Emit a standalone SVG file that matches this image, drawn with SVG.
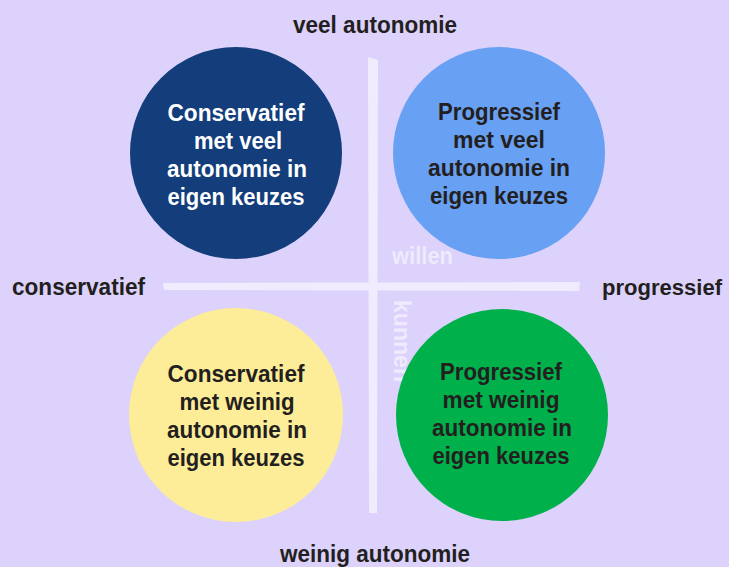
<svg xmlns="http://www.w3.org/2000/svg" width="729" height="567" viewBox="0 0 729 567">
<style>
.t{font-family:"Liberation Sans",Arial,sans-serif;font-weight:bold;font-size:24.5px;fill:#231f20;text-anchor:middle}
.w{fill:#ffffff}
.ax{font-family:"Liberation Sans",Arial,sans-serif;font-weight:bold;font-size:24px;fill:#231f20}
.lt{font-family:"Liberation Sans",Arial,sans-serif;font-weight:bold;font-size:23px;fill:#efeafd}
.ln{fill:#f0ecfd}
</style>
<rect width="729" height="567" fill="#dcd2fb"/>
<g id="axes">
<path class="ln" d="M368,57 L378,60 L377,513 L369,513 Z"/>
<path class="ln" d="M163,283 L580,282 L579,291 L164,290 Z"/>
</g>
<g id="labels">
<text class="ax" x="293" y="33" textLength="164" lengthAdjust="spacingAndGlyphs">veel autonomie</text>
<text class="ax" x="280" y="562" textLength="190" lengthAdjust="spacingAndGlyphs">weinig autonomie</text>
<text class="ax" x="12" y="295" textLength="133" lengthAdjust="spacingAndGlyphs">conservatief</text>
<text class="ax" x="602" y="295" font-size="22" style="font-size:22px" textLength="120" lengthAdjust="spacingAndGlyphs">progressief</text>
<text class="lt" x="392" y="264" textLength="61" lengthAdjust="spacingAndGlyphs">willen</text>
<text class="lt" transform="translate(394,300) rotate(90)" x="0" y="0" textLength="82" lengthAdjust="spacingAndGlyphs">kunnen</text>
</g>
<g id="node-tl">
<circle cx="236" cy="153" r="106" fill="#133d7b"/>
<text class="t w" x="236" y="121" textLength="137" lengthAdjust="spacingAndGlyphs">Conservatief</text>
<text class="t w" x="238" y="149" textLength="88" lengthAdjust="spacingAndGlyphs">met veel</text>
<text class="t w" x="237" y="177" textLength="140" lengthAdjust="spacingAndGlyphs">autonomie in</text>
<text class="t w" x="236" y="205" textLength="137" lengthAdjust="spacingAndGlyphs">eigen keuzes</text>
</g>
<g id="node-tr">
<circle cx="499" cy="153" r="106" fill="#68a0f3"/>
<text class="t" x="499" y="120" textLength="122" lengthAdjust="spacingAndGlyphs">Progressief</text>
<text class="t" x="499" y="148" textLength="92" lengthAdjust="spacingAndGlyphs">met veel</text>
<text class="t" x="499" y="176" textLength="142" lengthAdjust="spacingAndGlyphs">autonomie in</text>
<text class="t" x="499" y="204" textLength="138" lengthAdjust="spacingAndGlyphs">eigen keuzes</text>
</g>
<g id="node-bl">
<circle cx="236" cy="415" r="107" fill="#feed98"/>
<text class="t" x="236" y="382" textLength="137" lengthAdjust="spacingAndGlyphs">Conservatief</text>
<text class="t" x="237" y="410" textLength="115" lengthAdjust="spacingAndGlyphs">met weinig</text>
<text class="t" x="237" y="438" textLength="140" lengthAdjust="spacingAndGlyphs">autonomie in</text>
<text class="t" x="236" y="466" textLength="137" lengthAdjust="spacingAndGlyphs">eigen keuzes</text>
</g>
<g id="node-br">
<circle cx="502" cy="415" r="106" fill="#00b04b"/>
<text class="t" x="501" y="380" textLength="122" lengthAdjust="spacingAndGlyphs">Progressief</text>
<text class="t" x="501" y="408" textLength="117" lengthAdjust="spacingAndGlyphs">met weinig</text>
<text class="t" x="502" y="436" textLength="140" lengthAdjust="spacingAndGlyphs">autonomie in</text>
<text class="t" x="501" y="464" textLength="137" lengthAdjust="spacingAndGlyphs">eigen keuzes</text>
</g>
</svg>
